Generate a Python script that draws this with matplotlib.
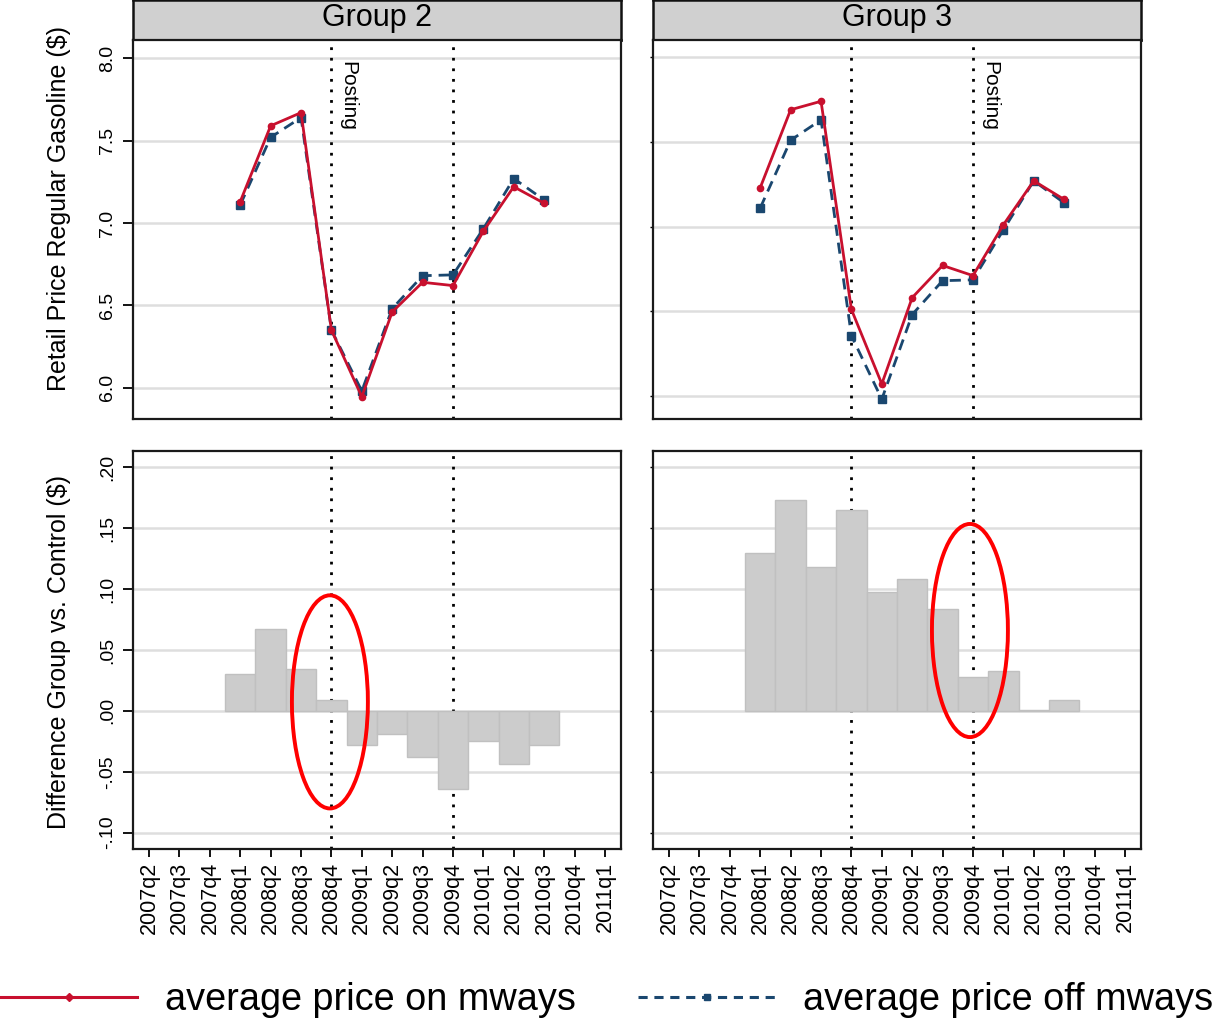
import matplotlib
matplotlib.use("Agg")
import matplotlib.pyplot as plt
from matplotlib.lines import Line2D
from matplotlib.patches import Ellipse
import matplotlib.transforms as mtransforms

plt.rcParams['font.family'] = ['Liberation Sans', 'DejaVu Sans']

# ---------------- data ----------------
quarters = ['2007q2', '2007q3', '2007q4', '2008q1', '2008q2', '2008q3', '2008q4',
            '2009q1', '2009q2', '2009q3', '2009q4', '2010q1', '2010q2', '2010q3',
            '2010q4', '2011q1']
data_quarters = ['2008q1', '2008q2', '2008q3', '2008q4', '2009q1', '2009q2',
                 '2009q3', '2009q4', '2010q1', '2010q2', '2010q3']

g2_on = [7.13, 7.59, 7.67, 6.35, 5.945, 6.46, 6.64, 6.62, 6.95, 7.22, 7.12]
g2_off = [7.11, 7.52, 7.64, 6.35, 5.98, 6.48, 6.68, 6.685, 6.965, 7.27, 7.14]
g3_on = [7.23, 7.69, 7.74, 6.51, 6.07, 6.58, 6.77, 6.71, 7.01, 7.27, 7.16]
g3_off = [7.11, 7.51, 7.63, 6.355, 5.98, 6.48, 6.68, 6.685, 6.98, 7.27, 7.14]

g2_diff = [0.030, 0.067, 0.034, 0.009, -0.028, -0.019, -0.038, -0.0645, -0.025, -0.044, -0.028]
g3_diff = [0.130, 0.173, 0.118, 0.165, 0.098, 0.108, 0.084, 0.028, 0.033, 0.0006, 0.009]

group_titles = ['Group 2', 'Group 3']
posting_quarter = ['2008q4', '2009q4']
event_quarters = ['2008q4', '2009q4']

price_ticks = [6.0, 6.5, 7.0, 7.5, 8.0]
price_ticklabels = ['6.0', '6.5', '7.0', '7.5', '8.0']
diff_ticks = [-0.10, -0.05, 0.0, 0.05, 0.10, 0.15, 0.20]
diff_ticklabels = ['-.10', '-.05', '.00', '.05', '.10', '.15', '.20']

# ellipse annotations: (centre quarter offset, centre y)
ellipse_centres = [(5.95, 0.0074), (9.9, 0.066)]

legend_labels = ['average price on mways', 'average price off mways']

# ---------------- style ----------------
RED = '#c8102e'
BLUE = '#1a476f'
GRID = '#dedede'
BAR = '#cccccc'
BAREDGE = '#c0c0c0'

W, H = 1214, 1024
fig = plt.figure(figsize=(W / 100, H / 100), dpi=100)


def fr(x0, y0, x1, y1):
    return [x0 / W, 1 - y1 / H, (x1 - x0) / W, (y1 - y0) / H]


col_x = [(133, 621), (653, 1141)]
top_y = (40, 419)
bot_y = (451, 849)

idx = {q: i for i, q in enumerate(quarters)}
xd = [idx[q] for q in data_quarters]

top_sets = [(g2_on, g2_off), (g3_on, g3_off)]
diff_sets = [g2_diff, g3_diff]
top_ylims = [(5.81, 8.111), (5.863, 8.102)]

dot_style = dict(color='black', linewidth=2.0, linestyle=(0, (1, 2.8)))

for c in range(2):
    x0, x1 = col_x[c]
    # header strip
    hax = fig.add_axes(fr(x0, 0, x1, top_y[0]))
    hax.set_facecolor('#d0d0d0')
    hax.set_xticks([]); hax.set_yticks([])
    for s in hax.spines.values():
        s.set_linewidth(1.8); s.set_color('#111111')
    hax.text(0.5, 0.55, group_titles[c], ha='center', va='center', fontsize=22,
             transform=hax.transAxes)

    # top panel
    ax = fig.add_axes(fr(x0, top_y[0], x1, top_y[1]))
    ax.set_xlim(-0.53, 15.53)
    ax.set_ylim(*top_ylims[c])
    ax.set_yticks(price_ticks)
    for y in price_ticks:
        ax.axhline(y, color=GRID, lw=1.8, zorder=0)
    for q in event_quarters:
        ax.axvline(idx[q], zorder=1, **dot_style)
    on, off = top_sets[c]
    ax.plot(xd, off, color=BLUE, lw=2.0, dashes=(4, 2.5), marker='s', markersize=6,
            zorder=3)
    ax.plot(xd, on, color=RED, lw=2.0, marker='o', markersize=4.5, zorder=4)
    ax.set_xticks([])
    pq = idx[posting_quarter[c]]
    trans = mtransforms.blended_transform_factory(ax.transData, ax.transAxes)
    ax.text(pq + 0.24, 0.945, 'Posting', rotation=-90, ha='left', va='top',
            fontsize=15, transform=trans)
    if c == 0:
        ax.set_yticklabels(price_ticklabels, rotation=90, va='center')
        ax.tick_params(axis='y', length=7, width=1.3, pad=5, labelsize=14)
        ax.set_ylabel('Retail Price Regular Gasoline ($)', fontsize=18)
        ax.yaxis.set_label_coords(-0.128, 0.555)
    else:
        ax.set_yticklabels([])
        ax.tick_params(axis='y', length=2, width=1.0)
    for s in ax.spines.values():
        s.set_linewidth(1.6); s.set_color('#1a1a1a')

    # bottom panel
    bx = fig.add_axes(fr(x0, bot_y[0], x1, bot_y[1]))
    bx.set_xlim(-0.53, 15.53)
    bx.set_ylim(-0.1134, 0.2134)
    bx.set_yticks(diff_ticks)
    for y in diff_ticks:
        bx.axhline(y, color=GRID, lw=1.8, zorder=0)
    for q in event_quarters:
        bx.axvline(idx[q], zorder=1, **dot_style)
    bx.bar(xd, diff_sets[c], width=1.0, color=BAR, edgecolor=BAREDGE, linewidth=1.0,
           zorder=2)
    ex, ey = ellipse_centres[c]
    bx.add_patch(Ellipse((ex, ey), width=2.5, height=0.175, fill=False,
                         edgecolor='#ff0000', linewidth=2.8, zorder=5))
    bx.set_xticks(range(len(quarters)))
    bx.set_xticklabels(quarters, rotation=90, va='top', ha='center')
    bx.tick_params(axis='x', length=6, width=1.3, pad=3, labelsize=15.5)
    if c == 0:
        bx.set_yticklabels(diff_ticklabels, rotation=90, va='center')
        bx.tick_params(axis='y', length=7, width=1.3, pad=5, labelsize=14)
        bx.set_ylabel('Difference Group vs. Control ($)', fontsize=18)
        bx.yaxis.set_label_coords(-0.128, 0.496)
    else:
        bx.set_yticklabels([])
        bx.tick_params(axis='y', length=2, width=1.0)
    for s in bx.spines.values():
        s.set_linewidth(1.6); s.set_color('#1a1a1a')

handles = [Line2D([], [], color=RED, lw=2.2, marker='D', markersize=4.5),
           Line2D([], [], color=BLUE, lw=2.2, dashes=(3, 2.2), marker='s', markersize=5)]
fig.legend(handles, legend_labels, loc='center', bbox_to_anchor=(0.5, 1 - 1000 / H),
           ncol=2, frameon=False, fontsize=27.3, handlelength=3.6, handletextpad=0.74,
           columnspacing=1.64, borderaxespad=0, borderpad=0, numpoints=1)

fig.savefig('out.png', dpi=100)
